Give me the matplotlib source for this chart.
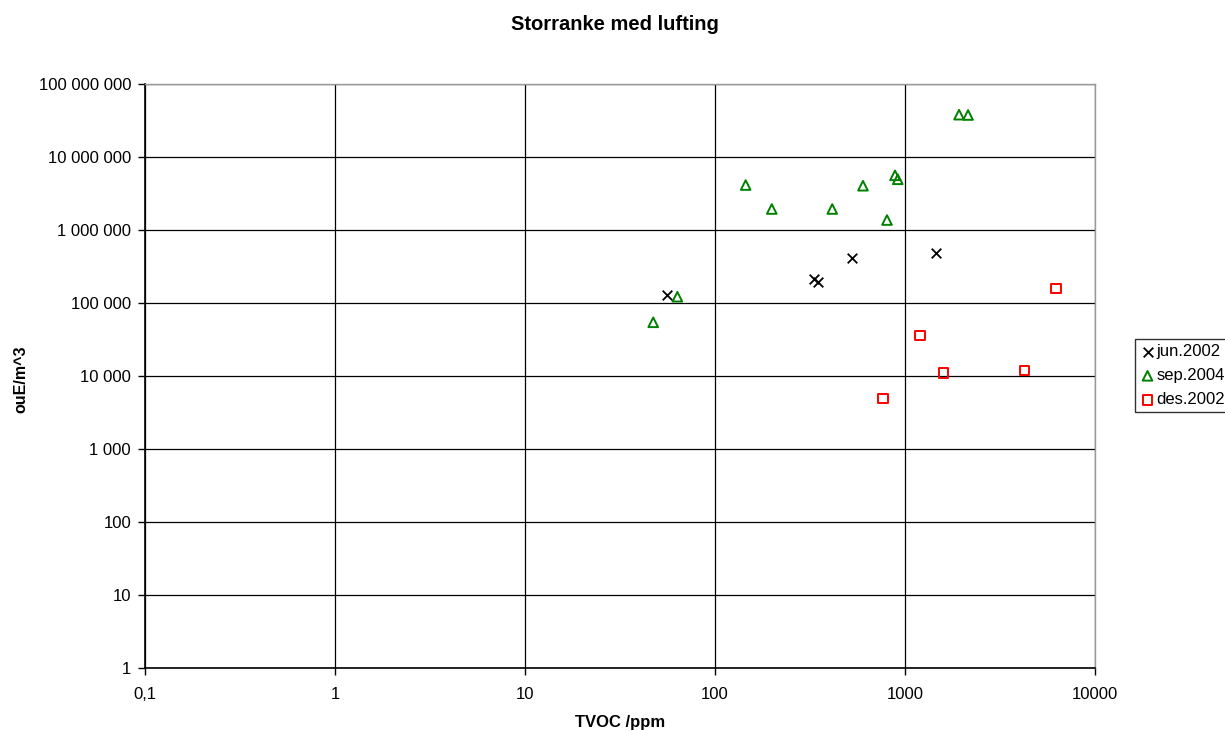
import matplotlib.pyplot as plt
from matplotlib.ticker import FixedLocator, FuncFormatter, NullLocator

plt.rcParams['font.family'] = ['Liberation Sans', 'DejaVu Sans']

# data
jun_x = [55.7, 333, 350, 528, 1462]
jun_y = [127000, 213000, 196000, 409000, 489000]

sep_x = [47.3, 63.4, 145, 199, 414, 601, 886, 916, 804, 1925, 2147]
sep_y = [54400, 122000, 4130000, 1940000, 1940000, 4040000, 5610000, 4950000, 1370000, 38000000, 37600000]

des_x = [766, 1199, 1592, 4266, 6236]
des_y = [4950, 35700, 11000, 12000, 159000]

x_ticks = [0.1, 1, 10, 100, 1000, 10000]
x_labels = ['0,1', '1', '10', '100', '1000', '10000']
y_ticks = [1, 10, 100, 1000, 10000, 100000, 1000000, 10000000, 100000000]

fig = plt.figure(figsize=(12.25, 7.31), dpi=100)
ax = fig.add_axes([145/1225, 63/731, 950/1225, 584/731])

ax.scatter(jun_x, jun_y, marker='x', s=48, c='k', linewidths=1.3, label='jun.2002', zorder=3)
ax.scatter(sep_x, sep_y, marker='^', s=48, facecolors='none', edgecolors='#008000', linewidths=1.4, label='sep.2004', zorder=3)
ax.scatter(des_x, des_y, marker='s', s=45, facecolors='none', edgecolors='#ff0000', linewidths=1.4, label='des.2002', zorder=3)

ax.set_xscale('log')
ax.set_yscale('log')
ax.set_xlim(0.1, 10000)
ax.set_ylim(1, 100000000)

ax.xaxis.set_major_locator(FixedLocator(x_ticks))
ax.xaxis.set_minor_locator(NullLocator())
ax.set_xticklabels(x_labels)
ax.yaxis.set_major_locator(FixedLocator(y_ticks))
ax.yaxis.set_minor_locator(NullLocator())
ax.yaxis.set_major_formatter(FuncFormatter(lambda v, p: f'{int(round(v)):,}'.replace(',', ' ')))

ax.tick_params(axis='both', direction='out', length=5, width=1, labelsize=12, colors='k')
ax.tick_params(axis='y', pad=5)
ax.tick_params(axis='x', pad=9)
ax.grid(True, which='major', color='k', linewidth=0.9)
ax.set_axisbelow(True)

for s in ['top', 'right']:
    ax.spines[s].set_color('#999999')
    ax.spines[s].set_linewidth(1)
for s in ['left', 'bottom']:
    ax.spines[s].set_color('k')
    ax.spines[s].set_linewidth(1.2)

fig.text(620/1225, 1 - 722/731, 'TVOC /ppm', fontsize=12, fontweight='bold', ha='center', va='center')
fig.text(21/1225, 1 - 379/731, 'ouE/m^3', fontsize=11.5, fontweight='bold', ha='center', va='center', rotation=90)
fig.text(615/1225, 1 - 24/731, 'Storranke med lufting', fontsize=14.5, fontweight='bold', ha='center', va='center')

leg = fig.legend(loc='upper left', bbox_to_anchor=(1135/1225, 1 - 339/731), fontsize=12,
                 frameon=True, fancybox=False, edgecolor='k', handletextpad=0.1,
                 handlelength=0.9, borderpad=0.3, labelspacing=0.55, scatterpoints=1, borderaxespad=0)
leg.get_frame().set_linewidth(1)

fig.savefig('out.png', dpi=100)
